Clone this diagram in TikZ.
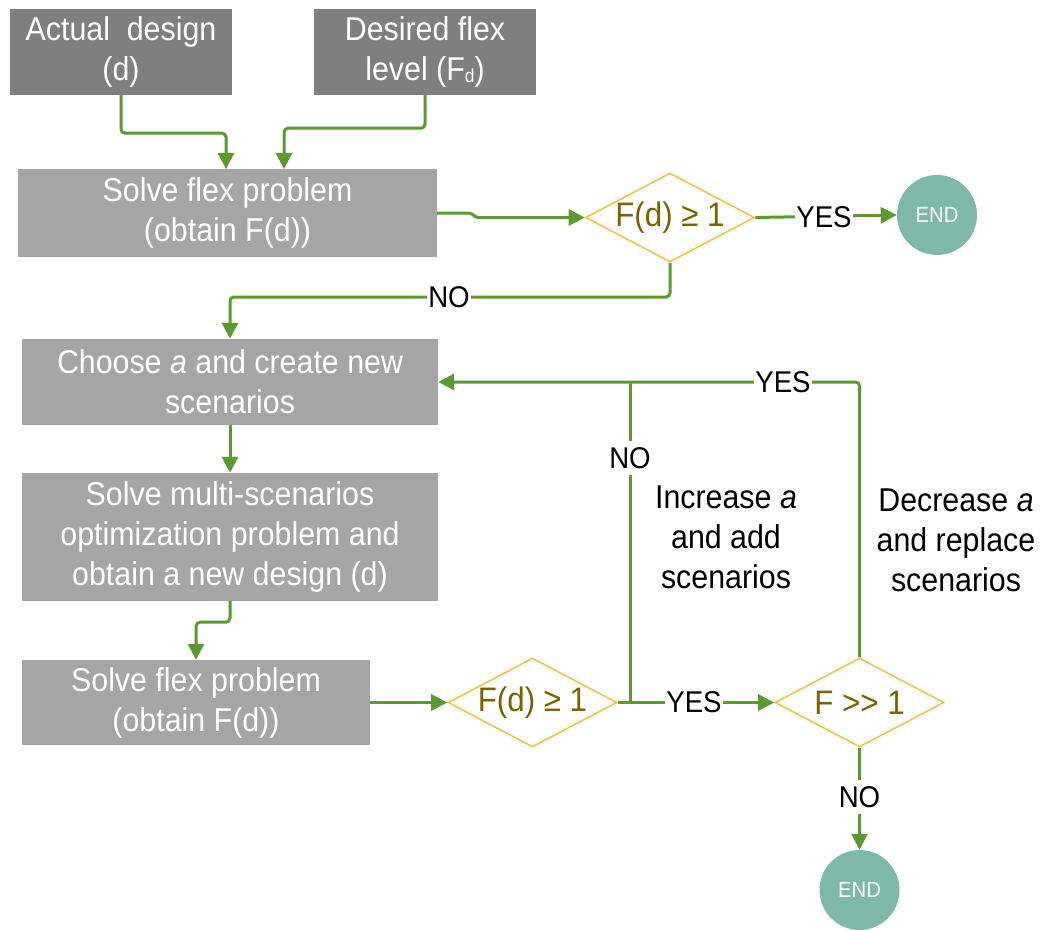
\documentclass[tikz,border=0pt]{standalone}
\usepackage{fontspec}
\setmainfont{Liberation Sans}[FakeStretch=0.92]
\usetikzlibrary{arrows.meta,shapes.geometric}

\definecolor{boxdark}{HTML}{7F7F7F}
\definecolor{boxlight}{HTML}{A5A5A5}
\definecolor{flowgreen}{HTML}{5A9A2E}
\definecolor{decgold}{HTML}{F4C048}
\definecolor{dectext}{HTML}{7F6000}
\definecolor{endteal}{HTML}{7DB8A8}

\tikzset{
  inbox/.style={rectangle, fill=boxdark, text=white, inner sep=0pt, align=center,
    font=\fontsize{33}{40}\selectfont},
  procbox/.style={inbox, fill=boxlight},
  decision/.style={diamond, draw=decgold, line width=1.6pt, minimum width=169pt,
    minimum height=89pt, inner sep=0pt, aspect=1.9},
  dectxt/.style={text=dectext, inner sep=0pt, font=\fontsize{34}{40}\selectfont},
  endnode/.style={circle, fill=endteal, text=white, minimum size=80pt, inner sep=0pt,
    font=\fontsize{22}{22}\selectfont},
  link/.style={draw=flowgreen, line width=3pt, rounded corners=4pt},
  flow/.style={link, -{Triangle[length=16pt,width=16pt]}},
  tag/.style={fill=white, inner xsep=1pt, inner ysep=2pt, font=\fontsize{30}{30}\selectfont},
  vtag/.style={tag, inner ysep=6pt},
  note/.style={align=center, inner sep=0pt, font=\fontsize{33}{40}\selectfont},
}

\begin{document}
\begin{tikzpicture}[x=1pt, y=-1pt]
\useasboundingbox (0,0) rectangle (1043,929);

% inputs
\node[inbox, minimum width=222pt, minimum height=86pt] (A) at (121,52) {Actual\ \ design\\(d)};
\node[inbox, minimum width=222pt, minimum height=86pt] (B) at (425,52)
  {Desired flex\\level (F\raisebox{-2pt}{\fontsize{19}{19}\selectfont d})};

% process boxes
\node[procbox, minimum width=419pt, minimum height=88pt] (C) at (227.5,213) {Solve flex problem\\(obtain F(d))};
\node[procbox, minimum width=416pt, minimum height=86pt] (D) at (230,382) {Choose \textit{a} and create new\\scenarios};
\node[procbox, minimum width=416pt, minimum height=128pt] (E) at (230,537)
  {Solve multi-scenarios\\optimization problem and\\obtain a new design (d)};
\node[procbox, minimum width=348pt, minimum height=85pt] (F) at (196,702.5) {Solve flex problem\\(obtain F(d))};

% decisions
\node[decision] (d1) at (670,217.5) {};
\node[dectxt] (d1t) at (d1.center) {F(d) ≥ 1};
\node[decision] (d2) at (532.5,702.5) {};
\node[dectxt] (d2t) at (d2.center) {F(d) ≥ 1};
\node[decision] (d3) at (859.5,702.5) {};
\node[dectxt] (d3t) at (d3.center) {F {>}{>} 1};

% terminators
\node[endnode] (end1) at (937,215) {END};
\node[endnode] (end2) at (859.5,890) {END};

% bend points
\coordinate (cA) at (226,169);
\coordinate (cB) at (284,169);
\coordinate (jog1) at (471,213);
\coordinate (jog2) at (476,217.5);
\coordinate (nobend) at (230,297);
\coordinate (br) at (630,702.5);
\coordinate (tj) at (630,382);

% connectors
\draw[flow] (A.south) -- ++(0,38) -| (cA);
\draw[flow] (B.south) -- ++(0,33) -| (cB);
\draw[flow, rounded corners=2pt] (C.east) -- (jog1) -- (jog2) -- (d1.west);
\draw[flow] (d1.east) -- (end1.west);
\draw[flow] (d1.south) |- (nobend) -- (D.north);
\draw[flow] (D.south) -- (E.north);
\draw[flow] (E.south) -- ++(0,21) -| (F.north);
\draw[flow] (F.east) -- (d2.west);
\draw[flow] (d2.east) -- (d3.west);
\draw[link] (br) -- (tj);
\draw[flow] (d3.north) |- (D.east);
\draw[flow] (d3.south) -- (end2.north);

% connector labels
\node[tag] (yes1) at (824,217) {YES};
\node[tag] (no1) at (449,297) {NO};
\node[tag] (yes2) at (694,702.5) {YES};
\node[vtag] (no2) at (630,458) {NO};
\node[tag] (yes3) at (783,382) {YES};
\node[vtag] (no3) at (859.5,797) {NO};

% loop annotations
\node[note] (inc) at (726,537) {Increase \textit{a}\\and add\\scenarios};
\node[note] (dec) at (956,540) {Decrease \textit{a}\\and replace\\scenarios};
\end{tikzpicture}
\end{document}
